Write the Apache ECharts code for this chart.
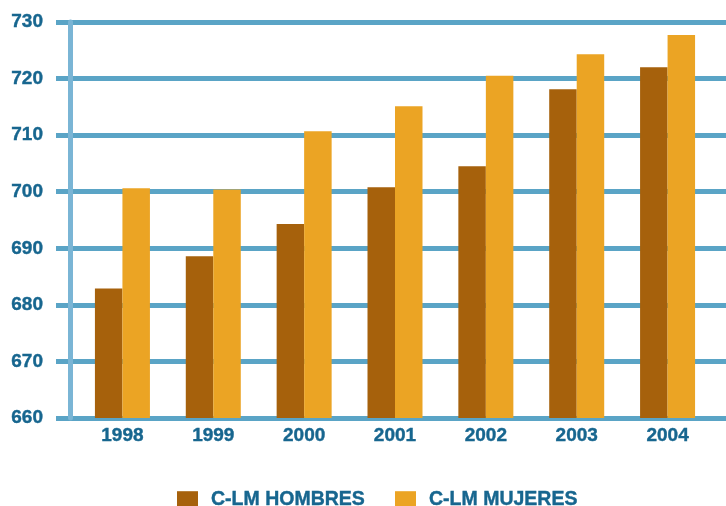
<!DOCTYPE html>
<html><head><meta charset="utf-8">
<script src="https://cdn.jsdelivr.net/npm/echarts@6/dist/echarts.min.js"></script>
<style>html,body{margin:0;padding:0;background:#fff}#c{width:726px;height:506px}</style>
</head><body><div id="c"></div>
<script>
const categories = ['1998','1999','2000','2001','2002','2003','2004'];
const hombres = [682.9, 688.6, 694.3, 700.8, 704.5, 718.1, 722.0];
const mujeres = [700.6, 700.4, 710.7, 715.1, 720.5, 724.3, 727.7];
const seriesNames = ['C-LM HOMBRES', 'C-LM MUJERES'];
const yMin = 660, yMax = 730, yStep = 10;

const txt = '#17668f';
const font = 'Liberation Sans, Arial, sans-serif';
const heavy = {textBorderColor: txt, textBorderWidth: 0.4};
const chart = echarts.init(document.getElementById('c'));
chart.setOption({
  animation: false,
  grid: [
    {left: 56, right: 0, top: 22, bottom: 88},
    {left: 77, right: 13, top: 22, bottom: 88}
  ],
  xAxis: [
    {gridIndex: 0, type: 'value', show: false, min: 0, max: 1},
    {gridIndex: 1, type: 'category', data: categories,
     axisLine: {show: false}, axisTick: {show: false},
     axisLabel: Object.assign({color: txt, fontSize: 19, fontWeight: 'bold', fontFamily: font, margin: 8}, heavy)}
  ],
  yAxis: [
    {gridIndex: 0, type: 'value', min: yMin, max: yMax, interval: yStep,
     axisLine: {show: false}, axisTick: {show: false},
     axisLabel: Object.assign({color: txt, fontSize: 19, fontWeight: 'bold', fontFamily: font, margin: 13}, heavy),
     splitLine: {lineStyle: {color: '#5aa4c6', width: 5}}},
    {gridIndex: 1, type: 'value', min: yMin, max: yMax, interval: yStep, offset: 7,
     axisLine: {show: true, lineStyle: {color: '#7ab5d5', width: 5}},
     axisTick: {show: false}, axisLabel: {show: false}, splitLine: {show: false}}
  ],
  legend: {
    data: seriesNames, left: 177, top: 489, padding: 0,
    itemWidth: 21, itemHeight: 16, itemGap: 30, icon: 'rect',
    textStyle: Object.assign({color: txt, fontSize: 19.5, fontWeight: 'bold', fontFamily: font, padding: [0,0,0,8]}, heavy)
  },
  series: [
    {name: seriesNames[0], type: 'bar', xAxisIndex: 1, yAxisIndex: 1, data: hombres,
     barWidth: 27.5, barGap: '0%', itemStyle: {color: '#a6610c'}, z: 3},
    {name: seriesNames[1], type: 'bar', xAxisIndex: 1, yAxisIndex: 1, data: mujeres,
     barWidth: 27.5, barGap: '0%', itemStyle: {color: '#eba424'}, z: 3}
  ]
});
</script></body></html>
